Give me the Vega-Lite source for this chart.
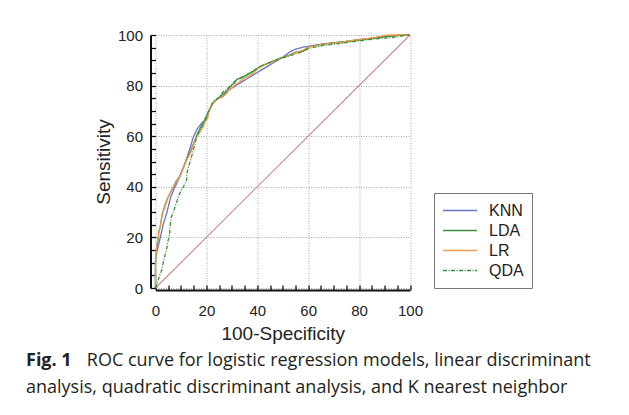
{
  "$schema": "https://vega.github.io/schema/vega-lite/v6.json",
  "width": 254.5,
  "height": 253,
  "autosize": "none",
  "padding": {"left": 155.5, "top": 35, "right": 219, "bottom": 127},
  "background": "white",
  "title": {
    "text": "Fig. 1",
    "subtitle": ["\u200b\u00a0\u00a0\u00a0\u00a0\u00a0\u00a0\u00a0\u00a0\u00a0\u00a0\u00a0\u00a0\u00a0ROC curve for logistic regression models, linear discriminant", "analysis, quadratic discriminant analysis, and K nearest neighbor"],
    "orient": "bottom",
    "anchor": "start",
    "frame": "group",
    "dx": -129.5,
    "offset": 9,
    "font": "Open Sans",
    "fontSize": 18,
    "fontWeight": "bold",
    "color": "#231f20",
    "subtitleFont": "Open Sans",
    "subtitleFontSize": 18,
    "subtitleFontWeight": "normal",
    "subtitleColor": "#231f20",
    "subtitlePadding": -18,
    "subtitleLineHeight": 27
  },
  "datasets": {
    "diag": [{"x": 0, "y": 0}, {"x": 100, "y": 100}],
    "roc": [
      {"model": "KNN", "x": 0, "y": 0}, {"model": "KNN", "x": 0, "y": 12}, {"model": "KNN", "x": 1.8, "y": 19.6}, {"model": "KNN", "x": 3, "y": 25}, {"model": "KNN", "x": 4.4, "y": 29.6}, {"model": "KNN", "x": 6, "y": 36}, {"model": "KNN", "x": 7.7, "y": 40}, {"model": "KNN", "x": 9.5, "y": 44}, {"model": "KNN", "x": 11.5, "y": 49}, {"model": "KNN", "x": 13.5, "y": 55}, {"model": "KNN", "x": 14.9, "y": 59.8}, {"model": "KNN", "x": 16.5, "y": 63}, {"model": "KNN", "x": 18, "y": 65}, {"model": "KNN", "x": 19.5, "y": 66.5}, {"model": "KNN", "x": 21, "y": 70}, {"model": "KNN", "x": 22.5, "y": 73}, {"model": "KNN", "x": 24.5, "y": 75}, {"model": "KNN", "x": 26.6, "y": 75.8}, {"model": "KNN", "x": 28.5, "y": 78}, {"model": "KNN", "x": 31.9, "y": 80.2}, {"model": "KNN", "x": 40, "y": 85.2}, {"model": "KNN", "x": 45, "y": 88.2}, {"model": "KNN", "x": 50.2, "y": 91.4}, {"model": "KNN", "x": 52.8, "y": 93.3}, {"model": "KNN", "x": 55, "y": 94.4}, {"model": "KNN", "x": 58, "y": 95.2}, {"model": "KNN", "x": 60.7, "y": 95.6}, {"model": "KNN", "x": 66, "y": 96.5}, {"model": "KNN", "x": 73.8, "y": 97.3}, {"model": "KNN", "x": 80, "y": 98.2}, {"model": "KNN", "x": 86.9, "y": 99}, {"model": "KNN", "x": 92.1, "y": 99.6}, {"model": "KNN", "x": 96, "y": 100}, {"model": "KNN", "x": 100, "y": 100},
      {"model": "LDA", "x": 0, "y": 0}, {"model": "LDA", "x": 0, "y": 9}, {"model": "LDA", "x": 0.4, "y": 15}, {"model": "LDA", "x": 1, "y": 19}, {"model": "LDA", "x": 1.3, "y": 22}, {"model": "LDA", "x": 2, "y": 25}, {"model": "LDA", "x": 2.6, "y": 29}, {"model": "LDA", "x": 3.5, "y": 32}, {"model": "LDA", "x": 4.5, "y": 35}, {"model": "LDA", "x": 5.5, "y": 37}, {"model": "LDA", "x": 7, "y": 40}, {"model": "LDA", "x": 8, "y": 42}, {"model": "LDA", "x": 9.5, "y": 44}, {"model": "LDA", "x": 10.5, "y": 46.5}, {"model": "LDA", "x": 11.5, "y": 49}, {"model": "LDA", "x": 12.5, "y": 51.5}, {"model": "LDA", "x": 13.5, "y": 53.5}, {"model": "LDA", "x": 14.5, "y": 56}, {"model": "LDA", "x": 15.5, "y": 58.5}, {"model": "LDA", "x": 16.5, "y": 61}, {"model": "LDA", "x": 17.5, "y": 63}, {"model": "LDA", "x": 18.5, "y": 65}, {"model": "LDA", "x": 20, "y": 66.5}, {"model": "LDA", "x": 20.5, "y": 69}, {"model": "LDA", "x": 21.5, "y": 71}, {"model": "LDA", "x": 22.5, "y": 73}, {"model": "LDA", "x": 24, "y": 74.5}, {"model": "LDA", "x": 25.3, "y": 75.6}, {"model": "LDA", "x": 27, "y": 77}, {"model": "LDA", "x": 28, "y": 78}, {"model": "LDA", "x": 29.9, "y": 80.2}, {"model": "LDA", "x": 31, "y": 81}, {"model": "LDA", "x": 32, "y": 82.5}, {"model": "LDA", "x": 34, "y": 83}, {"model": "LDA", "x": 35.5, "y": 84}, {"model": "LDA", "x": 37.1, "y": 84.9}, {"model": "LDA", "x": 39, "y": 86}, {"model": "LDA", "x": 41, "y": 87.5}, {"model": "LDA", "x": 42.4, "y": 88.1}, {"model": "LDA", "x": 45, "y": 89.2}, {"model": "LDA", "x": 48.9, "y": 90.8}, {"model": "LDA", "x": 52.8, "y": 92.1}, {"model": "LDA", "x": 55, "y": 93.2}, {"model": "LDA", "x": 58.1, "y": 93.6}, {"model": "LDA", "x": 60, "y": 95.3}, {"model": "LDA", "x": 63, "y": 95.9}, {"model": "LDA", "x": 66, "y": 96.4}, {"model": "LDA", "x": 70, "y": 96.9}, {"model": "LDA", "x": 73.8, "y": 97.3}, {"model": "LDA", "x": 77, "y": 97.7}, {"model": "LDA", "x": 80, "y": 98}, {"model": "LDA", "x": 84, "y": 98.5}, {"model": "LDA", "x": 87, "y": 98.9}, {"model": "LDA", "x": 90, "y": 99.3}, {"model": "LDA", "x": 94, "y": 99.7}, {"model": "LDA", "x": 97, "y": 100}, {"model": "LDA", "x": 100, "y": 100},
      {"model": "LR", "x": 0, "y": 0}, {"model": "LR", "x": 0, "y": 11}, {"model": "LR", "x": 0.5, "y": 17}, {"model": "LR", "x": 1, "y": 20}, {"model": "LR", "x": 1.5, "y": 23}, {"model": "LR", "x": 2, "y": 25}, {"model": "LR", "x": 2.5, "y": 28}, {"model": "LR", "x": 3, "y": 30}, {"model": "LR", "x": 4, "y": 33}, {"model": "LR", "x": 5, "y": 36}, {"model": "LR", "x": 6, "y": 38}, {"model": "LR", "x": 7, "y": 40}, {"model": "LR", "x": 8, "y": 41.5}, {"model": "LR", "x": 9, "y": 43}, {"model": "LR", "x": 10, "y": 45}, {"model": "LR", "x": 11, "y": 47.5}, {"model": "LR", "x": 12, "y": 50}, {"model": "LR", "x": 13, "y": 52}, {"model": "LR", "x": 14, "y": 54}, {"model": "LR", "x": 15, "y": 57}, {"model": "LR", "x": 16, "y": 59.5}, {"model": "LR", "x": 17, "y": 61}, {"model": "LR", "x": 18, "y": 62.5}, {"model": "LR", "x": 19, "y": 64}, {"model": "LR", "x": 19.5, "y": 66}, {"model": "LR", "x": 20.5, "y": 67}, {"model": "LR", "x": 21, "y": 70}, {"model": "LR", "x": 22, "y": 72}, {"model": "LR", "x": 23, "y": 73.5}, {"model": "LR", "x": 24, "y": 74.5}, {"model": "LR", "x": 25, "y": 75}, {"model": "LR", "x": 26.6, "y": 75.6}, {"model": "LR", "x": 28, "y": 77}, {"model": "LR", "x": 29, "y": 78.5}, {"model": "LR", "x": 31.2, "y": 80.2}, {"model": "LR", "x": 33, "y": 81.5}, {"model": "LR", "x": 35, "y": 83}, {"model": "LR", "x": 37, "y": 84}, {"model": "LR", "x": 38.4, "y": 84.9}, {"model": "LR", "x": 40, "y": 86.5}, {"model": "LR", "x": 42.4, "y": 88}, {"model": "LR", "x": 45, "y": 89}, {"model": "LR", "x": 48.9, "y": 90.6}, {"model": "LR", "x": 52.8, "y": 92}, {"model": "LR", "x": 55, "y": 93}, {"model": "LR", "x": 58, "y": 94}, {"model": "LR", "x": 60, "y": 95.2}, {"model": "LR", "x": 63, "y": 95.8}, {"model": "LR", "x": 66, "y": 96.4}, {"model": "LR", "x": 70, "y": 96.8}, {"model": "LR", "x": 73.8, "y": 97.2}, {"model": "LR", "x": 77, "y": 97.8}, {"model": "LR", "x": 80, "y": 98.1}, {"model": "LR", "x": 84, "y": 98.7}, {"model": "LR", "x": 87, "y": 99.2}, {"model": "LR", "x": 90, "y": 99.8}, {"model": "LR", "x": 92, "y": 100}, {"model": "LR", "x": 100, "y": 100},
      {"model": "QDA", "x": 0, "y": 0}, {"model": "QDA", "x": 1, "y": 3}, {"model": "QDA", "x": 2.4, "y": 7}, {"model": "QDA", "x": 3.5, "y": 12}, {"model": "QDA", "x": 4.5, "y": 16}, {"model": "QDA", "x": 5, "y": 19}, {"model": "QDA", "x": 5.5, "y": 21}, {"model": "QDA", "x": 5.8, "y": 25}, {"model": "QDA", "x": 6.2, "y": 28}, {"model": "QDA", "x": 7, "y": 30}, {"model": "QDA", "x": 8, "y": 33}, {"model": "QDA", "x": 9, "y": 36}, {"model": "QDA", "x": 10, "y": 38.5}, {"model": "QDA", "x": 11, "y": 40}, {"model": "QDA", "x": 12.3, "y": 43}, {"model": "QDA", "x": 12.3, "y": 45.3}, {"model": "QDA", "x": 13, "y": 48}, {"model": "QDA", "x": 14.2, "y": 52}, {"model": "QDA", "x": 15, "y": 55}, {"model": "QDA", "x": 16.2, "y": 59.8}, {"model": "QDA", "x": 17.2, "y": 62}, {"model": "QDA", "x": 18.9, "y": 65.1}, {"model": "QDA", "x": 19.5, "y": 67}, {"model": "QDA", "x": 20.5, "y": 69}, {"model": "QDA", "x": 21.5, "y": 71}, {"model": "QDA", "x": 22, "y": 72.5}, {"model": "QDA", "x": 23, "y": 74}, {"model": "QDA", "x": 24.5, "y": 75}, {"model": "QDA", "x": 25.3, "y": 75.8}, {"model": "QDA", "x": 26.5, "y": 77.5}, {"model": "QDA", "x": 28, "y": 78.5}, {"model": "QDA", "x": 29.9, "y": 80.4}, {"model": "QDA", "x": 31, "y": 81.5}, {"model": "QDA", "x": 32, "y": 82.5}, {"model": "QDA", "x": 33.5, "y": 83.2}, {"model": "QDA", "x": 35, "y": 84}, {"model": "QDA", "x": 37.1, "y": 85}, {"model": "QDA", "x": 39, "y": 86.2}, {"model": "QDA", "x": 41, "y": 87.5}, {"model": "QDA", "x": 42.4, "y": 88.1}, {"model": "QDA", "x": 45, "y": 89.2}, {"model": "QDA", "x": 48.9, "y": 90.6}, {"model": "QDA", "x": 52.8, "y": 91.8}, {"model": "QDA", "x": 56, "y": 92.8}, {"model": "QDA", "x": 58.1, "y": 93.5}, {"model": "QDA", "x": 60, "y": 94.6}, {"model": "QDA", "x": 63, "y": 95.3}, {"model": "QDA", "x": 66, "y": 95.9}, {"model": "QDA", "x": 70, "y": 96.4}, {"model": "QDA", "x": 73.8, "y": 96.8}, {"model": "QDA", "x": 77, "y": 97.3}, {"model": "QDA", "x": 80, "y": 97.6}, {"model": "QDA", "x": 83, "y": 98.1}, {"model": "QDA", "x": 86.9, "y": 98.5}, {"model": "QDA", "x": 90, "y": 98.8}, {"model": "QDA", "x": 92.1, "y": 98.9}, {"model": "QDA", "x": 95, "y": 99.3}, {"model": "QDA", "x": 98, "y": 99.8}, {"model": "QDA", "x": 100, "y": 100}
    ]
  },
  "encoding": {
    "x": {
      "field": "x",
      "type": "quantitative",
      "scale": {"domain": [0, 100], "nice": false, "zero": false},
      "axis": {
        "values": [0, 5, 10, 15, 20, 25, 30, 35, 40, 45, 50, 55, 60, 65, 70, 75, 80, 85, 90, 95, 100],
        "labelExpr": "datum.value % 20 === 0 ? datum.label : ''",
        "gridOpacity": {"condition": {"test": "datum.value % 20 === 0", "value": 1}, "value": 0},
        "title": "100-Specificity",
        "offset": 2,
        "tickSize": -5,
        "labelPadding": 18,
        "titlePadding": 6
      }
    },
    "y": {
      "field": "y",
      "type": "quantitative",
      "scale": {"domain": [0, 100], "nice": false, "zero": false},
      "axis": {
        "values": [0, 5, 10, 15, 20, 25, 30, 35, 40, 45, 50, 55, 60, 65, 70, 75, 80, 85, 90, 95, 100],
        "labelExpr": "datum.value % 20 === 0 ? datum.label : ''",
        "gridOpacity": {"condition": {"test": "datum.value % 20 === 0", "value": 1}, "value": 0},
        "title": "Sensitivity",
        "offset": 5,
        "tickSize": -5,
        "labelPadding": 13,
        "titlePadding": 4
      }
    }
  },
  "layer": [
    {
      "data": {"name": "diag"},
      "mark": {"type": "line", "color": "#c98b8b", "strokeWidth": 1.1}
    },
    {
      "data": {"name": "roc"},
      "mark": {"type": "line", "strokeWidth": 1.3},
      "encoding": {
        "color": {
          "field": "model",
          "type": "nominal",
          "scale": {"domain": ["KNN", "LDA", "LR", "QDA"], "range": ["#6673c8", "#3d8f3d", "#f39a4c", "#3a913a"]},
          "legend": {
            "title": null,
            "orient": "none",
            "legendX": 278.5,
            "legendY": 158,
            "strokeColor": "#777777",
            "padding": 8,
            "clipHeight": 19,
            "rowPadding": 1,
            "symbolType": "stroke",
            "symbolSize": 1156,
            "symbolStrokeWidth": 1.5,
            "labelOffset": 11,
            "labelFont": "Liberation Sans",
            "labelFontSize": 16,
            "labelColor": "#222222"
          }
        },
        "strokeDash": {
          "field": "model",
          "type": "nominal",
          "scale": {"domain": ["KNN", "LDA", "LR", "QDA"], "range": [[1, 0], [1, 0], [1, 0], [4, 1.5, 1, 1.5]]},
          "legend": {
            "title": null,
            "orient": "none",
            "legendX": 278.5,
            "legendY": 158,
            "strokeColor": "#777777",
            "padding": 8,
            "clipHeight": 19,
            "rowPadding": 1,
            "symbolType": "stroke",
            "symbolSize": 1156,
            "symbolStrokeWidth": 1.5,
            "labelOffset": 11,
            "labelFont": "Liberation Sans",
            "labelFontSize": 16,
            "labelColor": "#222222"
          }
        },
        "order": {"value": null}
      }
    }
  ],
  "config": {
    "view": {"stroke": null},
    "axis": {
      "domainColor": "#111111",
      "domainWidth": 2,
      "tickColor": "#111111",
      "tickWidth": 1.3,
      "gridColor": "#a8a8a8",
      "gridDash": [1, 1.5],
      "gridWidth": 1,
      "labelFont": "Liberation Sans",
      "labelFontSize": 15,
      "labelColor": "#222222",
      "labelOverlap": false,
      "labelFlush": false,
      "titleFont": "Liberation Sans",
      "titleFontSize": 19,
      "titleFontWeight": "normal",
      "titleColor": "#222222"
    }
  }
}
